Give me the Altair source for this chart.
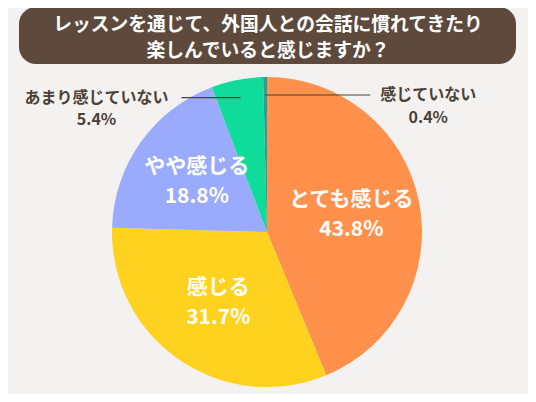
import math
import altair as alt
import pandas as pd

# ---- data ----
labels = ["とても感じる", "感じる", "やや感じる", "あまり感じていない", "感じていない"]
values = [43.8, 31.7, 18.8, 5.4, 0.4]
colors = ["#FF914D", "#FFD21F", "#9AABFE", "#0FDC9A", "#1FA39A"]
title_lines = ["レッスンを通じて、外国人との会話に慣れてきたり", "楽しんでいると感じますか？"]

# ---- layout ----
FONT = "Noto Sans CJK JP"
W, H = 520, 386
CX, CY, R = 259, 224, 155
LABEL_R = 86
TEXT_DARK = "#4B3F37"
outside_side = {"あまり感じていない": "left", "感じていない": "right"}

df = pd.DataFrame({"label": labels, "value": values, "idx": list(range(len(labels)))})

base = alt.Chart(df).encode(
    theta=alt.Theta("value:Q", stack=True),
    order=alt.Order("idx:Q", sort="ascending"),
)

arcs = base.mark_arc(outerRadius=R).encode(
    x=alt.value(CX),
    y=alt.value(CY),
    color=alt.Color("label:N", scale=alt.Scale(domain=labels, range=colors), legend=None),
)

inner = base.transform_calculate(
    inner_name="datum.value >= 10 ? datum.label : ''",
    inner_pct="datum.value >= 10 ? format(datum.value, '.1f') + '%' : ''",
)
inner_name = inner.mark_text(
    radius=LABEL_R, dy=-15, font=FONT, fontSize=21, fontWeight="bold", color="white"
).encode(x=alt.value(CX), y=alt.value(CY), text="inner_name:N")
inner_pct = inner.mark_text(
    radius=LABEL_R, dy=15, font=FONT, fontSize=21, fontWeight="bold", color="white"
).encode(x=alt.value(CX), y=alt.value(CY), text="inner_pct:N")

# ---- leader lines & outside labels for small slices (derived from the values) ----
total = sum(values)
cum = 0.0
rule_rows, text_rows = [], []
for lab, v in zip(labels, values):
    mid = (cum + v / 2) / total * 2 * math.pi
    cum += v
    if lab not in outside_side:
        continue
    ax = CX + 137 * math.sin(mid)
    ay = CY - 137 * math.cos(mid)
    if outside_side[lab] == "left":
        x1, x2, tx = ax - 59, ax, ax - 144
    else:
        x1, x2, tx = ax, ax + 105, ax + 163
    rule_rows.append({"x": x1, "x2": x2, "y": ay})
    text_rows.append({"x": tx, "y": ay, "t": lab})
    text_rows.append({"x": tx, "y": ay + 22.5, "t": f"{v:.1f}%"})

rules = alt.Chart(pd.DataFrame(rule_rows)).mark_rule(color=TEXT_DARK, strokeWidth=1.2).encode(
    x=alt.X("x:Q", scale=None), x2="x2:Q", y=alt.Y("y:Q", scale=None)
)
out_text = alt.Chart(pd.DataFrame(text_rows)).mark_text(
    font=FONT, fontSize=16, fontWeight="bold", color=TEXT_DARK, baseline="middle"
).encode(x=alt.X("x:Q", scale=None), y=alt.Y("y:Q", scale=None), text="t:N")

# ---- title box ----
dummy = alt.Chart(pd.DataFrame({"d": [0]}))
title_box = dummy.mark_rect(cornerRadius=17, color="#5E4A3C").encode(
    x=alt.value(11), x2=alt.value(508), y=alt.value(-1), y2=alt.value(56)
)
title1 = dummy.mark_text(
    font=FONT, fontSize=18.8, fontWeight="bold", color="white", baseline="middle"
).encode(x=alt.value(W / 2), y=alt.value(17), text=alt.value(title_lines[0]))
title2 = dummy.mark_text(
    font=FONT, fontSize=18.8, fontWeight="bold", color="white", baseline="middle"
).encode(x=alt.value(W / 2), y=alt.value(43), text=alt.value(title_lines[1]))

chart = alt.layer(
    arcs, inner_name, inner_pct, rules, out_text, title_box, title1, title2
).properties(
    width=W, height=H, padding=0, autosize=alt.AutoSizeParams(type="none"),
    background="#F4F2F0",
).configure_view(stroke=None)

chart.save("out.html", embed_options={"renderer": "svg", "actions": False})
